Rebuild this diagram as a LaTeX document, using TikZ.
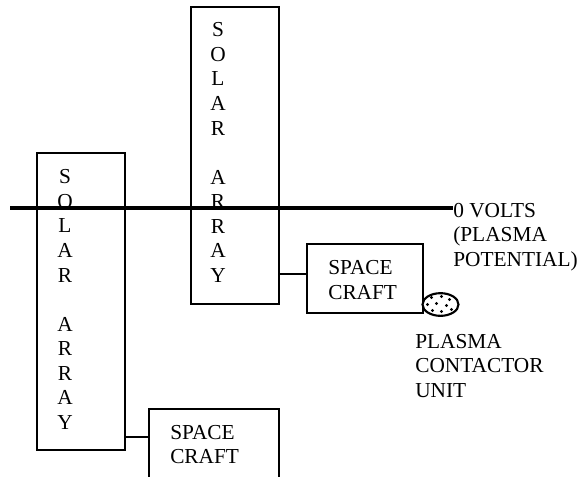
\documentclass[tikz,border=0pt]{standalone}
\usepackage{xcolor}
\usepackage{fontspec}
\usetikzlibrary{shapes.geometric}
\setmainfont{Liberation Serif}
\tikzset{
    unitbox/.style={draw,rectangle,line width=1.2pt,inner sep=0pt,outer sep=0pt},
    arraybox/.style={unitbox,minimum width=66pt,minimum height=222.75pt},
    wordtext/.style={align=left,inner sep=0pt,font=\fontsize{16}{18.4}\selectfont},
    columntext/.style={align=center,inner sep=0pt,font=\fontsize{16}{18.4}\selectfont},
}
\newcommand{\solarword}{S\\O\\L\\A\\R\\\mbox{}\\A\\R\\R\\A\\Y}

\begin{document}
\begin{tikzpicture}[x=0.75pt,y=-0.75pt]
    \useasboundingbox (0,0) rectangle (578,476);

    \node (arrayl) at (81,301.5) [arraybox] {};
    \node (arrayr) at (235,155.5) [arraybox] {};
    \node (crafta) at (365,278.5) [unitbox,minimum width=87pt,minimum height=51.75pt] {};
    \node (craftb) at (214,444.5) [unitbox,minimum width=97.5pt,minimum height=53.25pt] {};
    \node (contactor) at (440.5,304.5) [draw,ellipse,line width=1.6pt,fill=white,inner sep=0pt,outer sep=0pt,minimum width=27pt,minimum height=17pt] {};

    % dots inside the contactor
    \foreach \dx/\dy in {-9/-7,1/-8,9/-5,-13/0,-4/-1,6/1,-8/6,1/7,11/5}
        \fill (contactor.center) ++(\dx,\dy) circle (1.2pt);

    \node (textl) at (65,299.5) [columntext] {\solarword};
    \node (textr) at (218,152.5) [columntext] {\solarword};
    \node (texta) at (328,280) [wordtext,anchor=west] {SPACE\\CRAFT};
    \node (textb) at (170,444.5) [wordtext,anchor=west] {SPACE\\CRAFT};
    \node (volts) at (453,237) [wordtext,anchor=west] {0 VOLTS\\(PLASMA\\POTENTIAL)};
    \node (unit) at (415,366) [wordtext,anchor=west] {PLASMA\\CONTACTOR\\UNIT};

    \coordinate (bus) at (10,208);
    \coordinate (tapa) at (307,274);
    \coordinate (tapb) at (149,437);

    \draw[line width=3pt] (bus) -- (volts.west |- bus);
    \draw[line width=1.2pt] (arrayr.east |- tapa) -- (tapa);
    \draw[line width=1.2pt] (arrayl.east |- tapb) -- (tapb);
\end{tikzpicture}
\end{document}
